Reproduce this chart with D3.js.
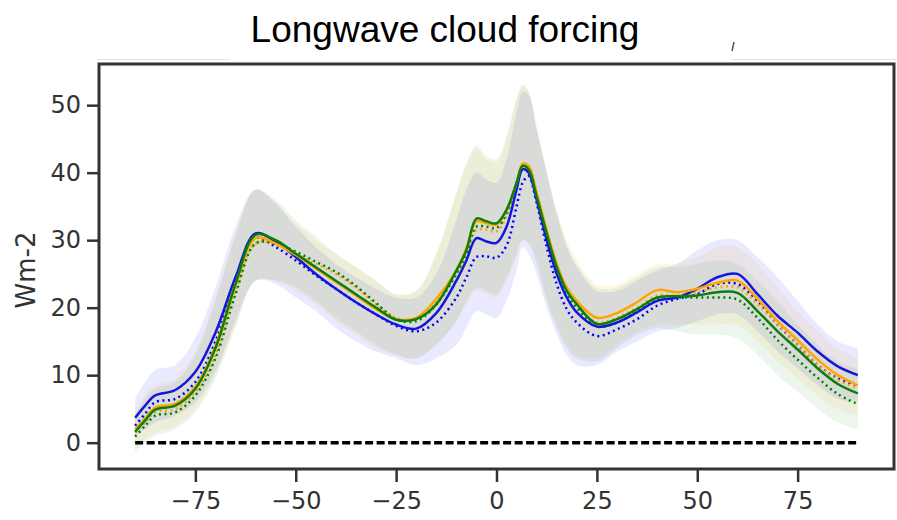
<!DOCTYPE html>
<html>
<head>
<meta charset="utf-8">
<script src="https://cdn.jsdelivr.net/npm/d3@7"></script>
<style>
  body { margin: 0; background: #fff; }
  svg { display: block; }
</style>
</head>
<body>
<script>
// latitude grid (degrees)
const lats = [-90, -87.5, -85, -80, -75, -70, -65, -60, -55, -50, -45, -40, -35, -30, -25, -20, -15, -10, -7.5, -5, -2.5, 0, 2.5, 5, 6.5, 8, 10, 12.5, 15, 17.5, 20, 25, 30, 35, 40, 45, 50, 55, 60, 65, 70, 75, 80, 85, 90];

// mean lines (Wm-2)
const blueSolid   = [3.7, 5.5, 7.0, 7.8, 10.5, 16.3, 24.5, 31.0, 29.8, 27.5, 25.0, 22.8, 20.8, 19.0, 17.5, 16.9, 19.2, 24.0, 27.0, 30.3, 29.8, 29.6, 32.0, 37.5, 40.5, 40.0, 36.0, 30.0, 25.0, 21.5, 19.3, 17.2, 17.8, 19.3, 21.0, 21.5, 22.8, 24.5, 25.0, 22.0, 18.8, 16.3, 13.5, 11.3, 10.0];
const blueDotted  = [2.5, 4.3, 6.0, 6.5, 9.0, 15.0, 24.0, 30.3, 29.0, 27.0, 24.8, 22.8, 20.8, 19.0, 17.3, 16.5, 17.8, 21.5, 24.5, 27.5, 27.6, 27.4, 29.2, 35.0, 38.5, 39.5, 35.5, 29.0, 23.5, 19.8, 17.8, 15.8, 16.8, 18.3, 20.3, 21.3, 22.0, 23.5, 23.5, 21.0, 17.5, 14.5, 11.5, 9.5, 8.5];
const orangeSolid = [2.0, 3.6, 5.2, 5.8, 8.3, 14.3, 23.5, 30.3, 29.5, 27.8, 25.8, 23.8, 21.8, 19.8, 18.3, 18.5, 21.3, 25.5, 28.8, 32.8, 32.5, 32.3, 34.5, 38.5, 41.3, 41.0, 37.0, 31.5, 26.5, 23.0, 21.0, 18.5, 19.2, 20.8, 22.6, 22.3, 22.8, 23.7, 24.0, 21.3, 18.0, 15.2, 12.3, 10.0, 8.5];
const orangeDotted= [1.5, 3.0, 4.5, 5.0, 7.5, 13.0, 22.5, 29.5, 29.5, 28.0, 26.5, 25.0, 23.0, 20.5, 18.5, 18.3, 20.8, 25.0, 28.0, 31.5, 31.5, 31.3, 33.5, 38.0, 41.0, 41.0, 37.0, 31.5, 26.3, 22.5, 20.3, 17.8, 18.5, 20.0, 21.8, 21.8, 22.3, 23.0, 23.0, 20.5, 17.5, 14.5, 11.5, 9.3, 8.0];
const greenSolid  = [1.6, 3.3, 4.9, 5.5, 8.0, 14.0, 23.5, 30.8, 30.0, 28.0, 26.0, 24.0, 22.0, 20.0, 18.2, 18.3, 20.5, 25.5, 28.5, 33.2, 32.8, 32.5, 34.5, 38.5, 41.0, 40.5, 36.5, 31.0, 26.0, 22.5, 20.5, 17.6, 18.3, 19.8, 21.5, 21.7, 21.8, 22.3, 22.2, 19.5, 16.5, 13.8, 11.0, 8.7, 7.3];
const greenDotted = [0.9, 2.5, 4.0, 4.5, 7.0, 12.5, 22.0, 29.5, 29.5, 28.3, 26.8, 25.3, 23.2, 20.7, 18.3, 18.0, 20.5, 25.0, 28.0, 32.0, 32.0, 31.8, 34.0, 38.5, 41.0, 40.8, 36.5, 30.8, 25.8, 22.0, 20.0, 17.2, 17.8, 19.5, 21.2, 21.5, 21.5, 21.5, 21.2, 18.5, 15.2, 12.3, 9.6, 7.2, 5.7];

// spread bands
const blueHi   = [6.5, 9.0, 10.8, 11.5, 15.5, 23.0, 32.0, 37.5, 35.5, 32.0, 29.0, 26.5, 24.5, 22.8, 21.5, 21.5, 25.0, 33.0, 37.5, 40.0, 39.0, 38.5, 42.0, 49.0, 52.0, 51.5, 46.5, 40.0, 34.0, 29.0, 26.0, 22.5, 22.5, 24.0, 25.5, 26.5, 28.5, 30.0, 30.0, 27.5, 24.5, 21.0, 17.5, 15.0, 14.0];
const blueLo   = [1.0, 2.0, 3.0, 4.0, 6.0, 10.5, 18.0, 24.0, 23.5, 21.5, 19.5, 17.0, 15.0, 13.5, 12.5, 11.5, 12.5, 14.5, 17.0, 19.5, 19.0, 18.5, 21.0, 25.5, 29.0, 28.0, 25.0, 20.0, 16.0, 13.0, 11.5, 11.5, 13.5, 15.0, 16.5, 17.0, 18.0, 19.0, 19.0, 16.5, 13.5, 11.0, 8.5, 6.5, 6.0];
const orangeHi = [4.5, 7.0, 8.5, 9.5, 13.5, 21.5, 31.0, 37.5, 35.5, 32.5, 30.0, 28.0, 26.0, 24.0, 22.0, 22.5, 28.0, 37.0, 41.0, 43.5, 42.0, 41.5, 45.0, 51.0, 53.0, 52.0, 47.0, 40.5, 34.5, 30.0, 27.0, 23.5, 23.5, 25.0, 26.5, 26.5, 27.5, 29.0, 29.0, 26.5, 23.0, 19.5, 16.5, 14.0, 12.5];
const orangeLo = [-1.0, 0.5, 1.5, 2.5, 5.0, 10.0, 17.5, 24.0, 24.0, 22.5, 20.5, 18.0, 16.0, 14.0, 13.0, 12.5, 14.5, 18.0, 20.5, 22.5, 22.0, 21.5, 24.0, 27.5, 30.0, 29.5, 27.0, 21.5, 17.5, 14.5, 13.0, 12.5, 14.5, 16.5, 17.5, 17.5, 17.5, 17.5, 17.5, 15.0, 12.0, 9.5, 7.0, 5.0, 4.0];
const greenHi  = [4.0, 6.5, 8.0, 9.0, 13.0, 21.0, 30.5, 37.5, 36.0, 33.0, 30.5, 28.0, 26.0, 24.0, 22.0, 22.5, 28.0, 37.0, 41.5, 44.0, 42.5, 42.0, 45.5, 51.0, 53.0, 52.0, 46.5, 40.0, 34.0, 29.5, 26.5, 23.0, 23.0, 24.5, 26.0, 26.0, 26.5, 27.0, 26.5, 24.0, 21.0, 17.5, 14.5, 12.0, 11.0];
const greenLo  = [-1.5, 0.0, 1.0, 2.0, 4.5, 9.5, 17.0, 24.0, 24.0, 23.0, 21.0, 18.5, 16.5, 14.5, 13.0, 12.5, 14.5, 18.0, 21.0, 23.0, 22.5, 22.0, 24.5, 28.0, 30.0, 29.5, 26.5, 21.0, 17.0, 14.0, 12.5, 12.0, 14.0, 16.0, 17.0, 16.5, 16.0, 16.0, 15.5, 13.0, 10.0, 7.5, 5.0, 3.0, 2.0];

const xTicks = [-75, -50, -25, 0, 25, 50, 75];
const yTicks = [0, 10, 20, 30, 40, 50];

const W = 897, H = 520;
const plotLeft = 99, plotRight = 894, plotTop = 64, plotBottom = 469;

const svg = d3.select("body").append("svg")
    .attr("width", W)
    .attr("height", H);

const x = d3.scaleLinear().domain([-99, 99]).range([plotLeft, plotRight]);
const y = d3.scaleLinear().domain([-3.9, 56.1]).range([plotBottom, plotTop]);

const smooth = d3.curveCatmullRom.alpha(0.5);

// bands
const bands = [
    { lo: blueLo, hi: blueHi, color: "#0000ff", op: 0.085 },
    { lo: orangeLo, hi: orangeHi, color: "#ffa500", op: 0.085 },
    { lo: greenLo, hi: greenHi, color: "#008000", op: 0.07 }
];

const area = d3.area()
    .x((d, i) => x(lats[i]))
    .y0(d => y(d[0]))
    .y1(d => y(d[1]))
    .curve(smooth);

bands.forEach(function(b) {
    svg.append("path")
        .datum(lats.map((l, i) => [b.lo[i], b.hi[i]]))
        .attr("d", area)
        .attr("fill", b.color)
        .attr("fill-opacity", b.op);
});

// zero reference line
svg.append("line")
    .attr("x1", x(-90)).attr("x2", x(90))
    .attr("y1", y(0)).attr("y2", y(0))
    .attr("stroke", "#000")
    .attr("stroke-width", 3.5)
    .attr("stroke-dasharray", "8,3.5");

const line = d3.line()
    .x((d, i) => x(lats[i]))
    .y(d => y(d))
    .curve(smooth);

const series = [
    { values: blueDotted, color: "#0000ff", dash: "2,3.5" },
    { values: orangeDotted, color: "#ffa500", dash: "2,3.5" },
    { values: greenDotted, color: "#008000", dash: "2,3.5" },
    { values: blueSolid, color: "#1515e0", dash: null },
    { values: orangeSolid, color: "#ffa500", dash: null },
    { values: greenSolid, color: "#0a800a", dash: null }
];

series.forEach(function(s) {
    svg.append("path")
        .datum(s.values)
        .attr("d", line)
        .attr("fill", "none")
        .attr("stroke", s.color)
        .attr("stroke-width", 2.5)
        .attr("stroke-dasharray", s.dash);
});

// axes
const xAxis = svg.append("g")
    .attr("transform", `translate(0,${plotBottom})`)
    .call(d3.axisBottom(x).tickValues(xTicks).tickSize(13).tickPadding(10)
        .tickFormat(d => d < 0 ? "\u2212" + Math.abs(d) : d));

const yAxis = svg.append("g")
    .attr("transform", `translate(${plotLeft},0)`)
    .call(d3.axisLeft(y).tickValues(yTicks).tickSize(12).tickPadding(6));

[xAxis, yAxis].forEach(function(g) {
    g.select(".domain").remove();
    g.selectAll(".tick line").attr("stroke", "#333").attr("stroke-width", 2.5);
    g.selectAll(".tick text")
        .attr("fill", "#333")
        .style("font-family", "DejaVu Sans")
        .style("font-size", "24px");
});

// frame
svg.append("rect")
    .attr("x", plotLeft).attr("y", plotTop)
    .attr("width", plotRight - plotLeft).attr("height", plotBottom - plotTop)
    .attr("fill", "none")
    .attr("stroke", "#333")
    .attr("stroke-width", 3);

// labels
svg.append("text")
    .attr("transform", "translate(35,270) rotate(-90)")
    .attr("text-anchor", "middle")
    .attr("fill", "#333")
    .style("font-family", "DejaVu Sans")
    .style("font-size", "26px")
    .text("Wm-2");

svg.append("text")
    .attr("x", 445).attr("y", 42)
    .attr("text-anchor", "middle")
    .attr("fill", "#000")
    .style("font-family", "Liberation Sans")
    .style("font-size", "37px")
    .text("Longwave cloud forcing");

// faint crop edge left over in the source image
svg.append("line").attr("x1", 97).attr("x2", 230).attr("y1", 59.5).attr("y2", 59.5)
    .attr("stroke", "#e4e4e4").attr("stroke-width", 1);
svg.append("line").attr("x1", 732).attr("x2", 897).attr("y1", 59.5).attr("y2", 59.5)
    .attr("stroke", "#e4e4e4").attr("stroke-width", 1);
svg.append("line").attr("x1", 734).attr("x2", 732).attr("y1", 42).attr("y2", 51)
    .attr("stroke", "#555").attr("stroke-width", 1.5);
</script>
</body>
</html>
